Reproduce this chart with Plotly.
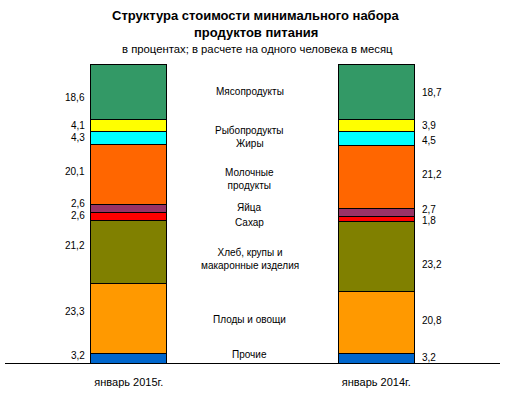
import plotly.graph_objects as go

# ---- data ----
periods = ["январь 2015г.", "январь 2014г."]
categories = ["Прочие", "Плоды и овощи", "Хлеб, крупы и<br>макаронные изделия",
              "Сахар", "Яйца", "Молочные<br>продукты", "Жиры", "Рыбопродукты",
              "Мясопродукты"]
values_2015 = [3.2, 23.3, 21.2, 2.6, 2.6, 20.1, 4.3, 4.1, 18.6]
values_2014 = [3.2, 20.8, 23.2, 1.8, 2.7, 21.2, 4.5, 3.9, 18.7]
colors = ["#0066CC", "#FF9900", "#808000", "#FF0000", "#993366",
          "#FF6600", "#00FFFF", "#FFFF00", "#339966"]

title_line1 = "Структура стоимости минимального набора"
title_line2 = "продуктов питания"
subtitle = "в процентах; в расчете на одного человека в месяц"

# ---- style (pixel nudges of labels) ----
shift_left = [3, 7, 7, 1, 5, 3, 1, 0, -6]
shift_right = [1, 2, -8, -1, 3, 2, -2, 0, -1]
shift_mid = [4, 1, -5, -5, 3, -3, -5, -5, 0]

FONT = "Arial, Liberation Sans, sans-serif"
xpos = [0, 2]
bar_w = 0.614

fig = go.Figure()
for i, cat in enumerate(categories):
    fig.add_trace(go.Bar(
        x=xpos, y=[values_2015[i], values_2014[i]],
        width=bar_w, marker=dict(color=colors[i], line=dict(color="black", width=1)),
        name=cat, showlegend=False, hoverinfo="skip"))

annotations = []
cum15 = 0.0
cum14 = 0.0
for i, cat in enumerate(categories):
    m15 = cum15 + values_2015[i] / 2
    m14 = cum14 + values_2014[i] / 2
    cum15 += values_2015[i]
    cum14 += values_2014[i]
    annotations.append(dict(x=xpos[0] - bar_w / 2, y=m15, xref="x", yref="y",
                            text=f"{values_2015[i]:.1f}".replace(".", ","),
                            showarrow=False, xanchor="right", yanchor="middle",
                            xshift=-4, yshift=shift_left[i],
                            font=dict(family=FONT, size=10, color="black")))
    annotations.append(dict(x=xpos[1] + bar_w / 2, y=m14, xref="x", yref="y",
                            text=f"{values_2014[i]:.1f}".replace(".", ","),
                            showarrow=False, xanchor="left", yanchor="middle",
                            xshift=6, yshift=shift_right[i],
                            font=dict(family=FONT, size=10, color="black")))
    annotations.append(dict(x=(xpos[0] + xpos[1]) / 2, y=(m15 + m14) / 2,
                            xref="x", yref="y", text=cat, showarrow=False,
                            xanchor="center", yanchor="middle", xshift=-3,
                            yshift=shift_mid[i],
                            font=dict(family=FONT, size=10, color="black")))

annotations += [
    dict(x=0.5, y=1, xref="paper", yref="paper", text=f"<b>{title_line1}</b>",
         showarrow=False, xanchor="center", yanchor="middle", yshift=49, xshift=3,
         font=dict(family=FONT, size=13, color="black")),
    dict(x=0.5, y=1, xref="paper", yref="paper", text=f"<b>{title_line2}</b>",
         showarrow=False, xanchor="center", yanchor="middle", yshift=32, xshift=3,
         font=dict(family=FONT, size=13, color="black")),
    dict(x=0.5, y=1, xref="paper", yref="paper", text=subtitle,
         showarrow=False, xanchor="center", yanchor="middle", yshift=15, xshift=5,
         font=dict(family=FONT, size=11.3, color="black")),
]

fig.update_layout(
    barmode="stack",
    width=511, height=395,
    margin=dict(l=5, r=11, t=64, b=32),
    paper_bgcolor="white", plot_bgcolor="white",
    annotations=annotations,
    xaxis=dict(range=[-1, 3], tickmode="array", tickvals=xpos, ticktext=periods,
               showline=True, linecolor="black", linewidth=1, showgrid=False,
               zeroline=False, ticks="outside", ticklen=9,
               tickcolor="rgba(0,0,0,0)",
               tickfont=dict(family=FONT, size=11, color="black"), fixedrange=True),
    yaxis=dict(range=[0, 100], visible=False, showgrid=False, fixedrange=True),
)

fig.write_html("out.html", config={"displayModeBar": False},
               post_script="document.body.style.margin='0';")
